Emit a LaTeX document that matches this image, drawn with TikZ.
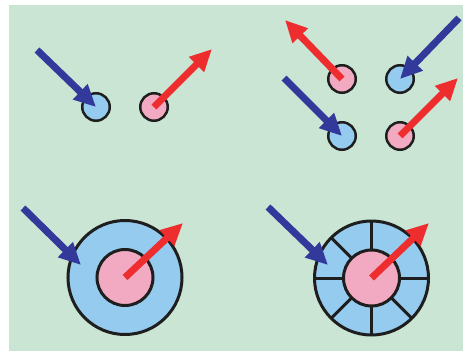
\documentclass[tikz,border=0pt]{standalone}
\usetikzlibrary{arrows.meta}
\definecolor{bggreen}{HTML}{CAE5D3}
\definecolor{cblue}{HTML}{94CBEE}
\definecolor{cpink}{HTML}{F2AAC3}
\definecolor{ared}{HTML}{EE2D2F}
\definecolor{ablue}{HTML}{32399A}
\definecolor{cline}{HTML}{1E1E1E}
\tikzset{
  smallc/.style={circle, draw=cline, line width=2.5pt, minimum size=27.5pt, inner sep=0pt},
  bluec/.style={smallc, fill=cblue},
  pinkc/.style={smallc, fill=cpink},
  outerc/.style={circle, draw=cline, line width=3pt, fill=cblue, minimum size=114pt, inner sep=0pt},
  innerc/.style={circle, draw=cline, line width=3pt, fill=cpink, minimum size=56pt, inner sep=0pt},
  arr/.style={line width=7pt, -{Triangle[length=22pt,width=20pt]}},
  redarr/.style={arr, draw=ared},
  bluearr/.style={arr, draw=ablue},
  spoke/.style={draw=cline, line width=3pt}
}
\begin{document}
\begin{tikzpicture}[x=1pt,y=-1pt]
\useasboundingbox (0,0) rectangle (463,351);
\fill[bggreen] (9,5) rectangle (463,351);
% top-left
\node[bluec] (b1) at (96,107) {};
\node[pinkc] (p1) at (154,107) {};
\coordinate (b1t) at (37,50);
\coordinate (p1h) at (212,49);
\draw[bluearr] (b1t) -- (b1.center);
\draw[redarr] (p1.center) -- (p1h);
% top-right
\node[pinkc] (p2) at (342,79) {};
\node[bluec] (b2) at (400,79) {};
\node[bluec] (b3) at (342,136) {};
\node[pinkc] (p3) at (400,136) {};
\coordinate (p2h) at (285,20);
\coordinate (b2t) at (459,18);
\coordinate (b3t) at (284,78);
\coordinate (p3h) at (458,78);
\draw[redarr] (p2.center) -- (p2h);
\draw[bluearr] (b2t) -- (b2.center);
\draw[bluearr] (b3t) -- (b3.center);
\draw[redarr] (p3.center) -- (p3h);
% bottom-left
\node[outerc] (o1) at (125,277.5) {};
\node[innerc] (i1) at (125,277.5) {};
\coordinate (o1t) at (23,208);
\coordinate (o1a) at (81,265);
\coordinate (i1h) at (183,223);
\draw[bluearr] (o1t) -- (o1a);
\draw[redarr] (i1.center) -- (i1h);
% bottom-right
\node[outerc] (o2) at (371.5,278) {};
\foreach \a in {0,45,...,315} {
  \draw[spoke] (o2.center) ++(\a:28) -- ++(\a:29);
}
\node[innerc] (i2) at (371.5,278) {};
\coordinate (o2t) at (268,207);
\coordinate (o2a) at (328,265);
\coordinate (i2h) at (429,223);
\draw[bluearr] (o2t) -- (o2a);
\draw[redarr] (i2.center) -- (i2h);
\end{tikzpicture}
\end{document}
